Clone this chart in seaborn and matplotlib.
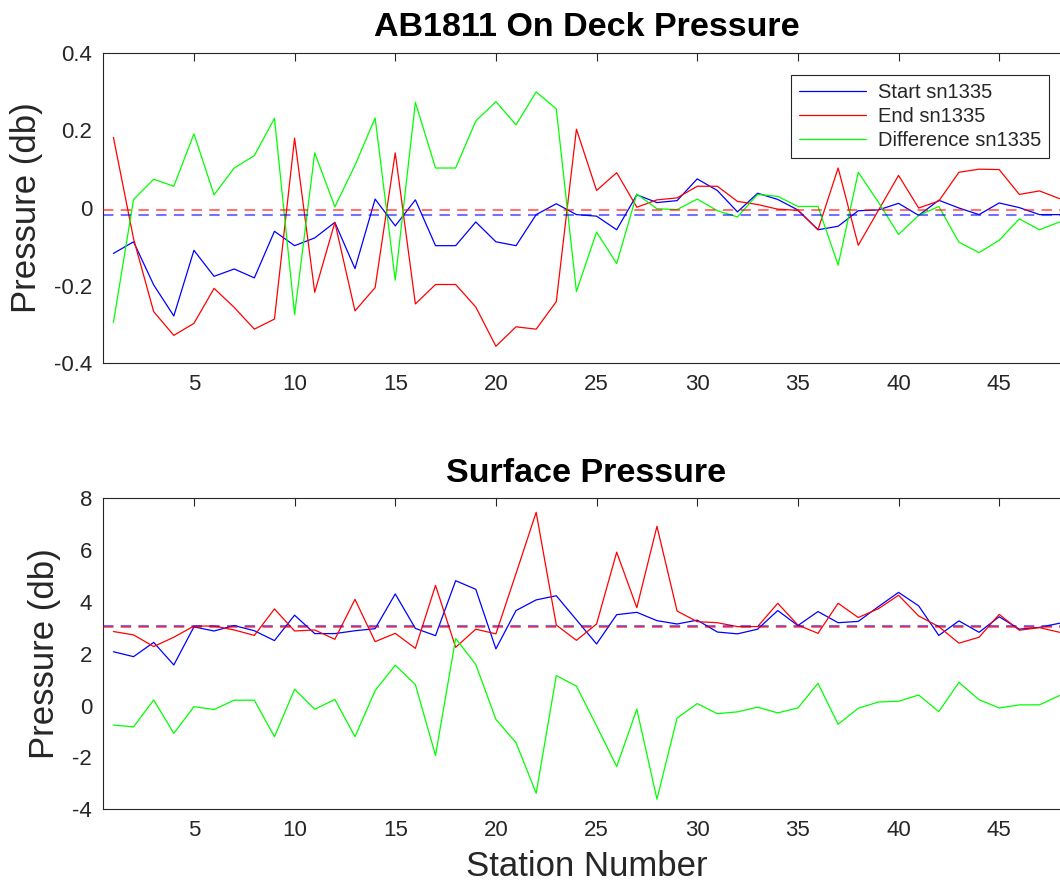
import numpy as np
import pandas as pd
import matplotlib
matplotlib.use("Agg")
import matplotlib.pyplot as plt
from matplotlib.ticker import FuncFormatter
import seaborn as sns

# ---- data -------------------------------------------------------------
stations = list(range(1, 49))

start_deck = [-0.117, -0.087, -0.198, -0.278, -0.109, -0.176, -0.157, -0.180, -0.060, -0.097,
              -0.077, -0.037, -0.156, 0.023, -0.046, 0.021, -0.097, -0.097, -0.036, -0.087,
              -0.097, -0.017, 0.011, -0.017, -0.021, -0.056, 0.034, 0.014, 0.019, 0.075,
              0.045, -0.010, 0.038, 0.022, -0.005, -0.056, -0.047, -0.007, -0.005, 0.012,
              -0.019, 0.020, 0.000, -0.017, 0.013, 0.001, -0.017, -0.017]
end_deck = [0.182, -0.079, -0.267, -0.328, -0.297, -0.207, -0.256, -0.312, -0.286, 0.180,
            -0.217, -0.037, -0.265, -0.205, 0.142, -0.247, -0.197, -0.197, -0.255, -0.356,
            -0.306, -0.312, -0.241, 0.203, 0.045, 0.091, 0.002, 0.021, 0.026, 0.056,
            0.056, 0.017, 0.009, -0.003, -0.006, -0.056, 0.103, -0.096, -0.006, 0.084,
            0.000, 0.018, 0.092, 0.100, 0.099, 0.035, 0.044, 0.024]
diff_deck = [-0.295, 0.022, 0.074, 0.056, 0.191, 0.034, 0.103, 0.135, 0.231, -0.274,
             0.142, 0.003, 0.110, 0.232, -0.186, 0.272, 0.103, 0.103, 0.224, 0.274,
             0.214, 0.299, 0.255, -0.215, -0.062, -0.143, 0.036, -0.002, -0.004, 0.023,
             -0.007, -0.023, 0.035, 0.030, 0.004, 0.004, -0.147, 0.092, 0.015, -0.068,
             -0.019, 0.004, -0.088, -0.115, -0.083, -0.028, -0.056, -0.036]
start_deck_ref = -0.019
end_deck_ref = -0.006

start_surf = [2.08, 1.89, 2.44, 1.57, 3.04, 2.88, 3.09, 2.89, 2.51, 3.49,
              2.78, 2.78, 2.89, 2.97, 4.31, 2.98, 2.70, 4.82, 4.49, 2.19,
              3.67, 4.08, 4.24, 3.31, 2.38, 3.51, 3.60, 3.28, 3.15, 3.30,
              2.84, 2.77, 2.95, 3.67, 3.09, 3.63, 3.20, 3.25, 3.82, 4.37,
              3.85, 2.71, 3.27, 2.83, 3.43, 2.95, 3.02, 3.18]
end_surf = [2.86, 2.73, 2.28, 2.64, 3.07, 3.07, 2.92, 2.71, 3.73, 2.88,
            2.92, 2.56, 4.10, 2.47, 2.79, 2.21, 4.64, 2.25, 2.95, 2.77,
            5.10, 7.46, 3.11, 2.52, 3.15, 5.92, 3.78, 6.92, 3.65, 3.24,
            3.20, 3.05, 3.05, 3.95, 3.11, 2.79, 3.95, 3.40, 3.74, 4.26,
            3.46, 3.05, 2.41, 2.64, 3.52, 2.91, 3.01, 2.83]
diff_surf = [-0.75, -0.82, 0.22, -1.07, -0.04, -0.15, 0.21, 0.21, -1.20, 0.63,
             -0.14, 0.24, -1.20, 0.58, 1.56, 0.81, -1.92, 2.59, 1.59, -0.53,
             -1.43, -3.38, 1.16, 0.75, -0.78, -2.35, -0.14, -3.61, -0.48, 0.08,
             -0.31, -0.24, -0.06, -0.28, -0.09, 0.86, -0.72, -0.10, 0.14, 0.17,
             0.41, -0.23, 0.90, 0.23, -0.09, 0.03, 0.03, 0.39]
start_surf_ref = 3.07
end_surf_ref = 3.04

series_labels = ["Start sn1335", "End sn1335", "Difference sn1335"]
series_colors = ["#0000ff", "#ff0000", "#00ff00"]
x_ticks = [5, 10, 15, 20, 25, 30, 35, 40, 45]
deck_yticks = [-0.4, -0.2, 0, 0.2, 0.4]
surf_yticks = [-4, -2, 0, 2, 4, 6, 8]

# ---- style ------------------------------------------------------------
sns.set_style("white")
plt.rcParams["font.family"] = ["Liberation Sans", "DejaVu Sans"]
axis_gray = "#262626"

fig = plt.figure(figsize=(10.6, 8.84), dpi=100)
ax_top = fig.add_axes([0.0975, 0.589, 0.9116, 0.3514])
ax_bot = fig.add_axes([0.0975, 0.0845, 0.9116, 0.3518])


def draw_panel(ax, start, end, diff, start_ref, end_ref, ylim, yticks, title):
    df = pd.DataFrame({"station": stations, series_labels[0]: start,
                       series_labels[1]: end, series_labels[2]: diff})
    long = df.melt(id_vars="station", var_name="series", value_name="pressure")
    sns.lineplot(data=long, x="station", y="pressure", hue="series",
                 hue_order=series_labels, palette=series_colors,
                 linewidth=0.9, ax=ax, legend=True)
    ax.axhline(start_ref, color=series_colors[0], lw=1.5, alpha=0.55,
               ls=(0, (5, 3.5)), zorder=3)
    ax.axhline(end_ref, color=series_colors[1], lw=1.5, alpha=0.55,
               ls=(0, (5, 3.5)), zorder=3)
    ax.set_xlim(0.5, 48.5)
    ax.set_ylim(*ylim)
    ax.set_xticks(x_ticks)
    ax.set_yticks(yticks)
    ax.yaxis.set_major_formatter(FuncFormatter(lambda v, p: f"{v:g}"))
    ax.tick_params(direction="in", length=6, width=0.8, colors=axis_gray,
                   labelsize=16, top=True, right=True, pad=8)
    for s in ax.spines.values():
        s.set_color(axis_gray)
        s.set_linewidth(0.8)
    ax.set_ylabel("Pressure (db)", fontsize=25, color=axis_gray, labelpad=8)
    ax.set_xlabel("")
    ax.set_title(title, fontsize=24.5, fontweight="bold", color="black", pad=12)


draw_panel(ax_top, start_deck, end_deck, diff_deck, start_deck_ref, end_deck_ref,
           (-0.4, 0.4), deck_yticks, "AB1811 On Deck Pressure")
draw_panel(ax_bot, start_surf, end_surf, diff_surf, start_surf_ref, end_surf_ref,
           (-4, 8), surf_yticks, "Surface Pressure")

ax_bot.set_xlabel("Station Number", fontsize=25, color=axis_gray, labelpad=6)
ax_bot.get_legend().remove()

handles, labels = ax_top.get_legend_handles_labels()
leg = ax_top.legend(handles[:3], labels[:3], loc="upper right",
                    bbox_to_anchor=(0.9786, 0.928), borderaxespad=0,
                    fontsize=14.5, handlelength=3.3, labelspacing=0.25,
                    handletextpad=0.6, borderpad=0.4, fancybox=False,
                    framealpha=1, edgecolor=axis_gray)
leg.get_frame().set_linewidth(0.8)

fig.savefig("out.png", dpi=100)
